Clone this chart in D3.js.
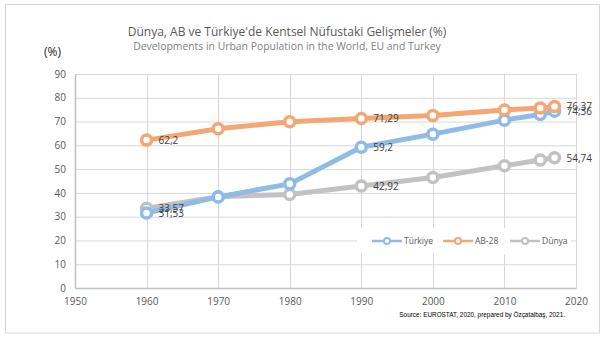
<!DOCTYPE html>
<html><head><meta charset="utf-8">
<script src="https://cdn.jsdelivr.net/npm/d3@7"></script>
<style>body{margin:0;background:#fff;font-family:"Open Sans","DejaVu Sans",sans-serif;}</style>
</head><body><svg id="c" width="605" height="345"></svg>
<script>
const years = [1960, 1970, 1980, 1990, 2000, 2010, 2015, 2017];
const turkiye = [31.53, 38.3, 43.8, 59.2, 64.7, 70.6, 73.0, 74.36];
const ab28 = [62.2, 67.0, 69.9, 71.29, 72.5, 74.9, 75.7, 76.37];
const dunya = [33.57, 38.4, 39.3, 42.92, 46.5, 51.4, 53.8, 54.74];
const seriesNames = ["Türkiye", "AB-28", "Dünya"];
const xTicks = [1950, 1960, 1970, 1980, 1990, 2000, 2010, 2020];
const yTicks = [0, 10, 20, 30, 40, 50, 60, 70, 80, 90];
const labelled = [1960, 1990, 2017];
const labelText = v => String(v).replace(".", ",");

const svg = d3.select("#c");
const colors = ["#8fbbe6", "#f4a673", "#c2c2c2"];
const data = [turkiye, ab28, dunya];

// outer frame
svg.append("rect").attr("x", 5.5).attr("y", 4.5).attr("width", 594).attr("height", 328.5)
  .attr("fill", "#fff").attr("stroke", "#d9d9d9");

const x = d3.scaleLinear().domain([1950, 2020]).range([75, 576]);
const y = d3.scaleLinear().domain([0, 90]).range([288, 74]);

// grid
svg.append("g").selectAll("line").data(yTicks).join("line")
  .attr("x1", x(1950)).attr("x2", x(2020)).attr("y1", d => y(d) + 0.5).attr("y2", d => y(d) + 0.5)
  .attr("stroke", "#d9d9d9");
svg.append("g").selectAll("line").data(xTicks).join("line")
  .attr("y1", y(0)).attr("y2", y(90)).attr("x1", d => Math.round(x(d)) + 0.5).attr("x2", d => Math.round(x(d)) + 0.5)
  .attr("stroke", "#d9d9d9");

// axes
const xa = svg.append("g").attr("transform", `translate(0,${y(0)})`)
  .call(d3.axisBottom(x).tickValues(xTicks).tickFormat(d3.format("d")).tickSize(0).tickPadding(10));
const ya = svg.append("g").attr("transform", `translate(${x(1950)},0)`)
  .call(d3.axisLeft(y).tickValues(yTicks).tickSize(0).tickPadding(9));
[xa, ya].forEach(a => {
  a.select(".domain").attr("stroke", "#bfbfbf").attr("stroke-width", 1.5);
  a.selectAll("text").attr("fill", "#595959").style("font-size", "10px").style("font-family", "Open Sans, sans-serif");
});

// legend white box
svg.append("rect").attr("x", 357).attr("y", 228).attr("width", 214).attr("height", 26).attr("fill", "#fff");

// lines
const line = d3.line().x((d, i) => x(years[i])).y(d => y(d));
[2, 0, 1].forEach(k => {
  const g = svg.append("g");
  g.append("path").datum(data[k]).attr("d", line).attr("fill", "none")
    .attr("stroke", colors[k]).attr("stroke-width", 5).attr("stroke-linejoin", "round");
  g.selectAll("circle").data(data[k]).join("circle")
    .attr("cx", (d, i) => x(years[i])).attr("cy", d => y(d)).attr("r", 5)
    .attr("fill", "#fff").attr("stroke", colors[k]).attr("stroke-width", 3.5);
});

// data labels
data.forEach((s, k) => {
  svg.append("g").selectAll("text").data(years.map((yr, i) => [yr, s[i]]).filter(d => labelled.includes(d[0])))
    .join("text").attr("x", d => x(d[0]) + 12).attr("y", d => y(d[1]) + 4)
    .attr("fill", "#404040").style("font-size", "10px").style("font-family", "Open Sans, sans-serif")
    .text(d => labelText(d[1]));
});

// legend
const lx = [372, 443, 510];
seriesNames.forEach((n, k) => {
  const g = svg.append("g").attr("transform", `translate(${lx[k]},241)`);
  g.append("line").attr("x1", 0).attr("x2", 30).attr("stroke", colors[k]).attr("stroke-width", 2.5);
  g.append("circle").attr("cx", 15).attr("r", 3).attr("fill", "#fff").attr("stroke", colors[k]).attr("stroke-width", 2);
  g.append("text").attr("x", 32).attr("y", 3).attr("fill", "#595959").style("font-size", "8.5px").text(n);
});

// titles
svg.append("text").attr("x", 287).attr("y", 36).attr("text-anchor", "middle").attr("fill", "#595959")
  .style("font-size", "12px").text("Dünya, AB ve Türkiye'de Kentsel Nüfustaki Gelişmeler (%)");
svg.append("text").attr("x", 287).attr("y", 50).attr("text-anchor", "middle").attr("fill", "#7f7f7f")
  .style("font-size", "10.4px").text("Developments in Urban Population in the World, EU and Turkey");
svg.append("text").attr("x", 44).attr("y", 56).attr("fill", "#262626")
  .style("font-size", "12px").text("(%)");
svg.append("text").attr("x", 565).attr("y", 317).attr("text-anchor", "end").attr("fill", "#000")
  .style("font-size", "6.4px").style("font-family", "Liberation Sans, sans-serif")
  .text("Source: EUROSTAT, 2020,  prepared by Özçatalbaş, 2021.");
</script></body></html>
